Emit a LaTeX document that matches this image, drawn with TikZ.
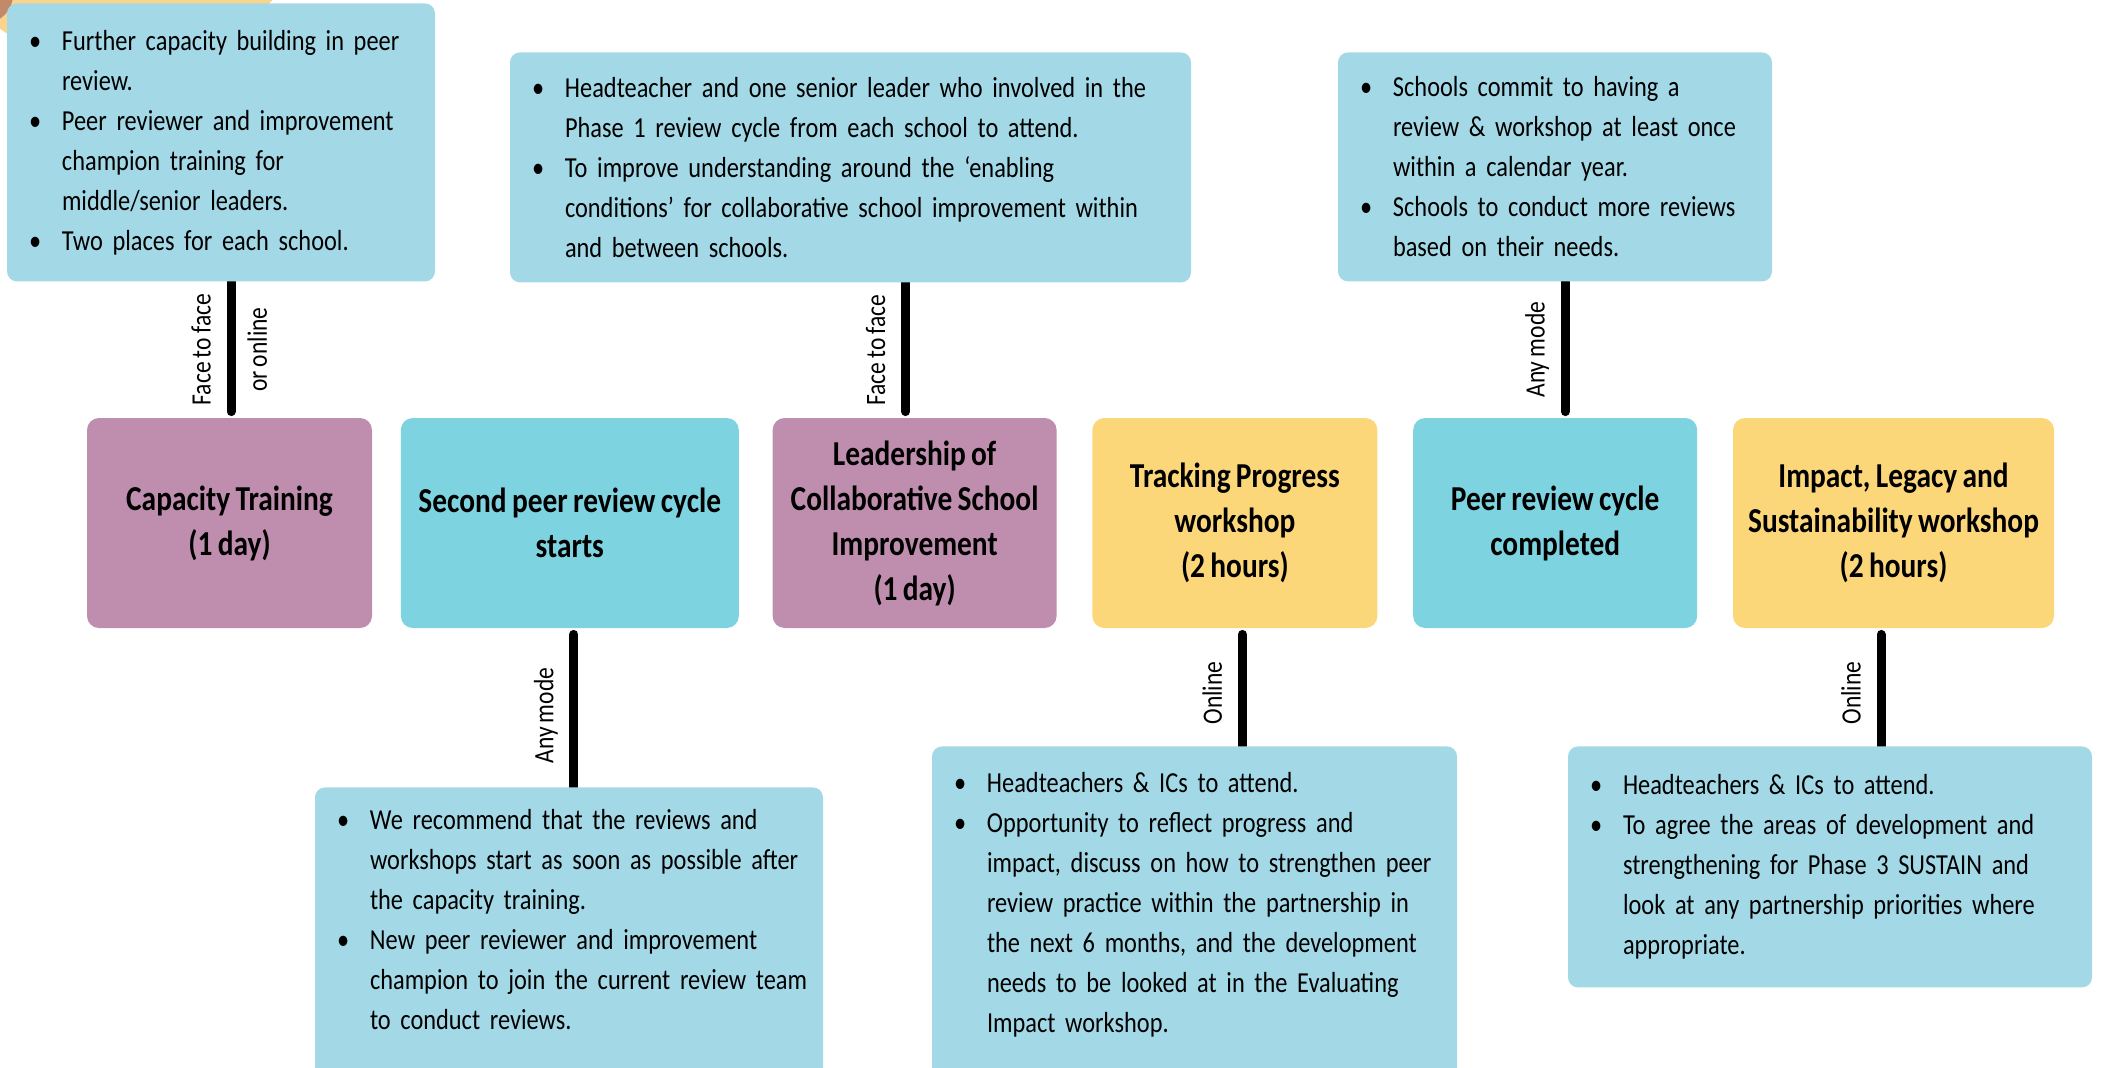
\documentclass[tikz,border=0pt]{standalone}
\usepackage{fontspec}
\setmainfont{Carlito}[FakeStretch=0.84,WordSpace=0.8]
\usetikzlibrary{positioning,backgrounds}
\definecolor{notebg}{RGB}{163,216,230}
\definecolor{stepcyan}{RGB}{125,212,224}
\definecolor{stepmauve}{RGB}{191,142,174}
\definecolor{stepgold}{RGB}{252,215,122}
\definecolor{blobpeach}{RGB}{250,211,140}
\definecolor{blobbrown}{RGB}{195,138,106}
% bullet with hanging indent, each item ends with \par
\newcommand{\bul}{\noindent\hangindent=16.5pt\hangafter=1\hbox to 16.5pt{\textbullet\hfil}}

\begin{document}
\begin{tikzpicture}[x=0.5pt, y=-0.5pt,
    note/.style={fill=notebg, rounded corners=5pt, anchor=north, align=left, inner xsep=11pt, font=\fontsize{14.5}{20}\selectfont},
    stage/.style={rounded corners=6pt, minimum height=105pt, align=center, font=\bfseries\fontsize{17.5}{22.5}\selectfont},
    link/.style={line width=4.5pt, line cap=round, shorten <=3pt},
    tag/.style={rotate=90, inner xsep=0pt, inner ysep=8pt, text depth=0pt, font=\fontsize{14}{16}\selectfont}]
  \useasboundingbox (0,0) rectangle (2105,1067);

  % middle row of stages
  \node[stage, fill=stepmauve, minimum width=142.5pt] (cap) at (229.5,523) {Capacity Training\\(1 day)};
  \node[stage, fill=stepcyan, minimum width=169pt, right=14pt of cap] (second) {Second peer review cycle\\starts};
  \node[stage, fill=stepmauve, minimum width=142pt, right=16.5pt of second] (lead) {Leadership of\\Collaborative School\\Improvement\\(1 day)};
  \node[stage, fill=stepgold, minimum width=142.5pt, right=17.5pt of lead] (track) {Tracking Progress\\workshop\\(2 hours)};
  \node[stage, fill=stepcyan, minimum width=142pt, right=17.5pt of track] (done) {Peer review cycle\\completed};
  \node[stage, fill=stepgold, minimum width=160.5pt, right=17.5pt of done] (impact) {Impact, Legacy and\\Sustainability workshop\\(2 hours)};

  % notes above
  \node[note, minimum height=139pt, text width=192pt] (capnote) at (221,3) {%
    \bul Further capacity building in peer\newline review.\par
    \bul Peer reviewer and improvement\newline champion training for\newline middle/senior leaders.\par
    \bul Two places for each school.\par};
  \node[note, minimum height=115pt, text width=318.5pt] (leadnote) at (850.5,52) {%
    \bul \mbox{Headteacher and one senior leader who involved in the}\newline Phase 1 review cycle from each school to attend.\par
    \bul To improve understanding around the `enabling\newline \mbox{conditions' for collaborative school improvement within}\newline and between schools.\par};
  \node[note, minimum height=114.5pt, text width=195pt] (donenote) at (1555,52) {%
    \bul Schools commit to having a\newline \mbox{review \& workshop at least once}\newline within a calendar year.\par
    \bul Schools to conduct more reviews\newline based on their needs.\par};

  % notes below
  \node[note, text width=232pt, inner ysep=11pt, text depth=135pt] (secondnote) at (569,787) {%
    \bul We recommend that the reviews and\newline \mbox{workshops start as soon as possible after}\newline the capacity training.\par
    \bul New peer reviewer and improvement\newline \mbox{champion to join the current review team}\newline to conduct reviews.\par};
  \node[note, text width=240.5pt, inner ysep=13pt, text depth=150pt] (tracknote) at (1194.5,746) {%
    \bul Headteachers \& ICs to attend.\par
    \bul Opportunity to reflect progress and\newline \mbox{impact, discuss on how to strengthen peer}\newline \mbox{review practice within the partnership in}\newline the next 6 months, and the development\newline needs to be looked at in the Evaluating\newline Impact workshop.\par};
  \node[note, minimum height=120.5pt, text width=240pt] (impactnote) at (1830,746) {%
    \bul Headteachers \& ICs to attend.\par
    \bul \mbox{To agree the areas of development and}\newline \mbox{strengthening for Phase 3 SUSTAIN and}\newline \mbox{look at any partnership priorities where}\newline appropriate.\par};

  \coordinate (capjoin) at ([xshift=0.75pt]cap.north);
  \coordinate (secondjoin) at ([xshift=2pt]second.south);
  \coordinate (leadjoin) at ([xshift=-4.5pt]lead.north);
  \coordinate (trackjoin) at ([xshift=3.75pt]track.south);
  \coordinate (donejoin) at ([xshift=5pt]done.north);
  \coordinate (impactjoin) at ([xshift=-6.25pt]impact.south);

  \begin{scope}[on background layer]
    \fill[blobpeach] (120,-140) circle[radius=207];
    \fill[blobbrown] (-15,-5) circle[radius=28];
    \draw[link] (capjoin) -- (capjoin |- capnote.south)
      node[tag, midway, anchor=south] {Face to face}
      node[tag, midway, anchor=north, inner ysep=6pt] {or online};
    \draw[link] (secondjoin) -- (secondjoin |- secondnote.north)
      node[tag, pos=0.55, anchor=south] {Any mode};
    \draw[link] (leadjoin) -- (leadjoin |- leadnote.south)
      node[tag, midway, anchor=south] {Face to face};
    \draw[link] (trackjoin) -- (trackjoin |- tracknote.north)
      node[tag, pos=0.55, anchor=south] {Online};
    \draw[link] (donejoin) -- (donejoin |- donenote.south)
      node[tag, midway, anchor=south] {Any mode};
    \draw[link] (impactjoin) -- (impactjoin |- impactnote.north)
      node[tag, pos=0.55, anchor=south] {Online};
  \end{scope}
\end{tikzpicture}
\end{document}
